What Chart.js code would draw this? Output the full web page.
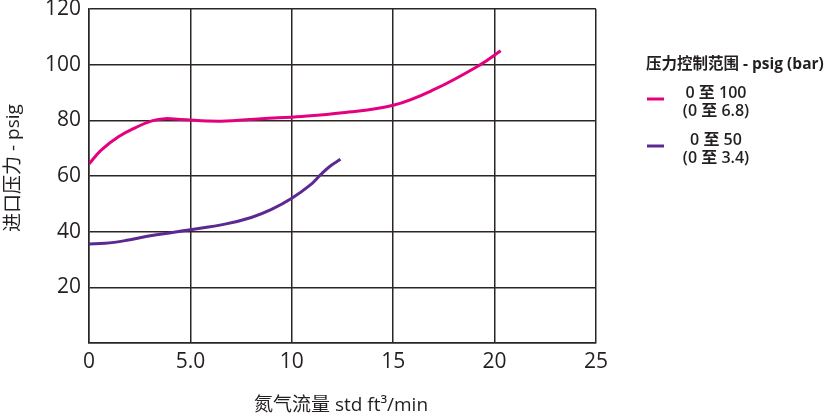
<!DOCTYPE html>
<html>
<head>
<meta charset="utf-8">
<script src="https://cdn.jsdelivr.net/npm/chart.js@4.4.1/dist/chart.umd.min.js"></script>
<style>
  html, body { margin: 0; padding: 0; background: #fff; }
  #wrap { width: 825px; height: 417px; position: relative; }
</style>
</head>
<body>
<div id="wrap"><canvas id="grafica"></canvas></div>
<script>
// flow (std ft3/min) and inlet pressure (psig)
const flowHigh = [0, 0.6, 1.45, 2.3, 3.1, 3.75, 4.5, 6.5, 8.5, 10.5, 12.5, 15, 17, 19.3, 20.3];
const pressHigh = [64.3, 69.3, 74.1, 77.4, 79.8, 80.6, 80.3, 79.7, 80.6, 81.4, 82.7, 85.4, 91.0, 100.0, 105.0];

const flowLow = [0, 0.8, 1.8, 3.1, 5, 6.7, 8, 9, 10, 10.9, 11.4, 11.9, 12.4];
const pressLow = [35.6, 35.8, 36.8, 38.6, 40.7, 42.7, 45.1, 48.0, 52.0, 56.7, 60.3, 63.6, 66.0];

const seriesLabels = [["0 至 100", "(0 至 6.8)"], ["0 至 50", "(0 至 3.4)"]];
const seriesColors = ["#e4007f", "#5c2891"];
const legendTitle = "压力控制范围 - psig (bar)";
const xTitle = "氮气流量 std ft³/min";
const yTitle = "进口压力 - psig";

const xTicks = [0, 5, 10, 15, 20, 25];
const yTicks = [0, 20, 40, 60, 80, 100, 120];

const textColor = "#231f20";
const gridColor = "#2b2624";

function puntos(xs, ys) {
    const out = [];
    for (let i = 0; i < xs.length; i++) {
        out.push({ x: xs[i], y: ys[i] });
    }
    return out;
}

// titles and legend drawn by hand
const overlay = {
    id: "overlay",
    afterDraw(chart) {
        const ctx = chart.ctx;
        ctx.save();
        ctx.fillStyle = textColor;
        ctx.textBaseline = "middle";

        ctx.font = '19px "Open Sans", "Noto Sans CJK SC"';
        ctx.textAlign = "center";
        ctx.fillText(xTitle, 341, 406);

        ctx.save();
        ctx.translate(14, 168);
        ctx.rotate(-Math.PI / 2);
        ctx.fillText(yTitle, 0, 0);
        ctx.restore();

        ctx.textAlign = "left";
        ctx.font = 'bold 15.5px "Open Sans", "Noto Sans CJK SC"';
        ctx.fillText(legendTitle, 646, 65);

        const rows = [93, 140];
        chart.data.datasets.forEach((ds, i) => {
            const y = rows[i];
            ctx.strokeStyle = ds.borderColor;
            ctx.lineWidth = 3;
            ctx.beginPath();
            ctx.moveTo(647, y + 6);
            ctx.lineTo(664, y + 6);
            ctx.stroke();
            ctx.font = '600 16px "Open Sans", "Noto Sans CJK SC"';
            ctx.textAlign = "center";
            ctx.fillText(seriesLabels[i][0], 716, y);
            ctx.fillText(seriesLabels[i][1], 716, y + 18);
        });
        ctx.restore();
    }
};

const config = {
    type: "line",
    data: {
        datasets: [
            {
                label: seriesLabels[0].join(" "),
                data: puntos(flowHigh, pressHigh),
                borderColor: seriesColors[0],
                borderWidth: 3,
                pointRadius: 0,
                tension: 0.4,
                fill: false
            },
            {
                label: seriesLabels[1].join(" "),
                data: puntos(flowLow, pressLow),
                borderColor: seriesColors[1],
                borderWidth: 3,
                pointRadius: 0,
                tension: 0.4,
                fill: false
            }
        ]
    },
    options: {
        responsive: true,
        maintainAspectRatio: false,
        animation: false,
        layout: { padding: { top: 9, right: 229, left: 0, bottom: 0 } },
        plugins: {
            legend: { display: false },
            tooltip: { enabled: false }
        },
        scales: {
            x: {
                type: "linear",
                min: xTicks[0],
                max: xTicks[xTicks.length - 1],
                afterBuildTicks: (scale) => { scale.ticks = xTicks.map(v => ({ value: v })); },
                afterFit: (scale) => {
                    scale.height = 74;
                    scale.paddingLeft = 0;
                    scale.paddingRight = 0;
                },
                ticks: {
                    padding: 6,
                    color: textColor,
                    font: { family: '"Open Sans"', size: 21 },
                    maxRotation: 0,
                    callback: (v) => v === 5 ? "5.0" : String(v)
                },
                grid: { color: gridColor, lineWidth: 1.5, drawTicks: false },
                border: { color: gridColor, width: 1.5 }
            },
            y: {
                min: yTicks[0],
                max: yTicks[yTicks.length - 1],
                afterBuildTicks: (scale) => { scale.ticks = yTicks.map(v => ({ value: v })); },
                afterFit: (scale) => {
                    scale.width = 89;
                    scale.paddingTop = 0;
                    scale.paddingBottom = 0;
                },
                ticks: {
                    padding: 8,
                    color: textColor,
                    font: { family: '"Open Sans"', size: 21 },
                    callback: (v) => v === 0 ? "" : String(v)
                },
                grid: { color: gridColor, lineWidth: 1.5, drawTicks: false },
                border: { color: gridColor, width: 1.5 }
            }
        }
    },
    plugins: [overlay]
};

const ChartPrincipal = new Chart(document.getElementById("grafica"), config);
</script>
</body>
</html>
